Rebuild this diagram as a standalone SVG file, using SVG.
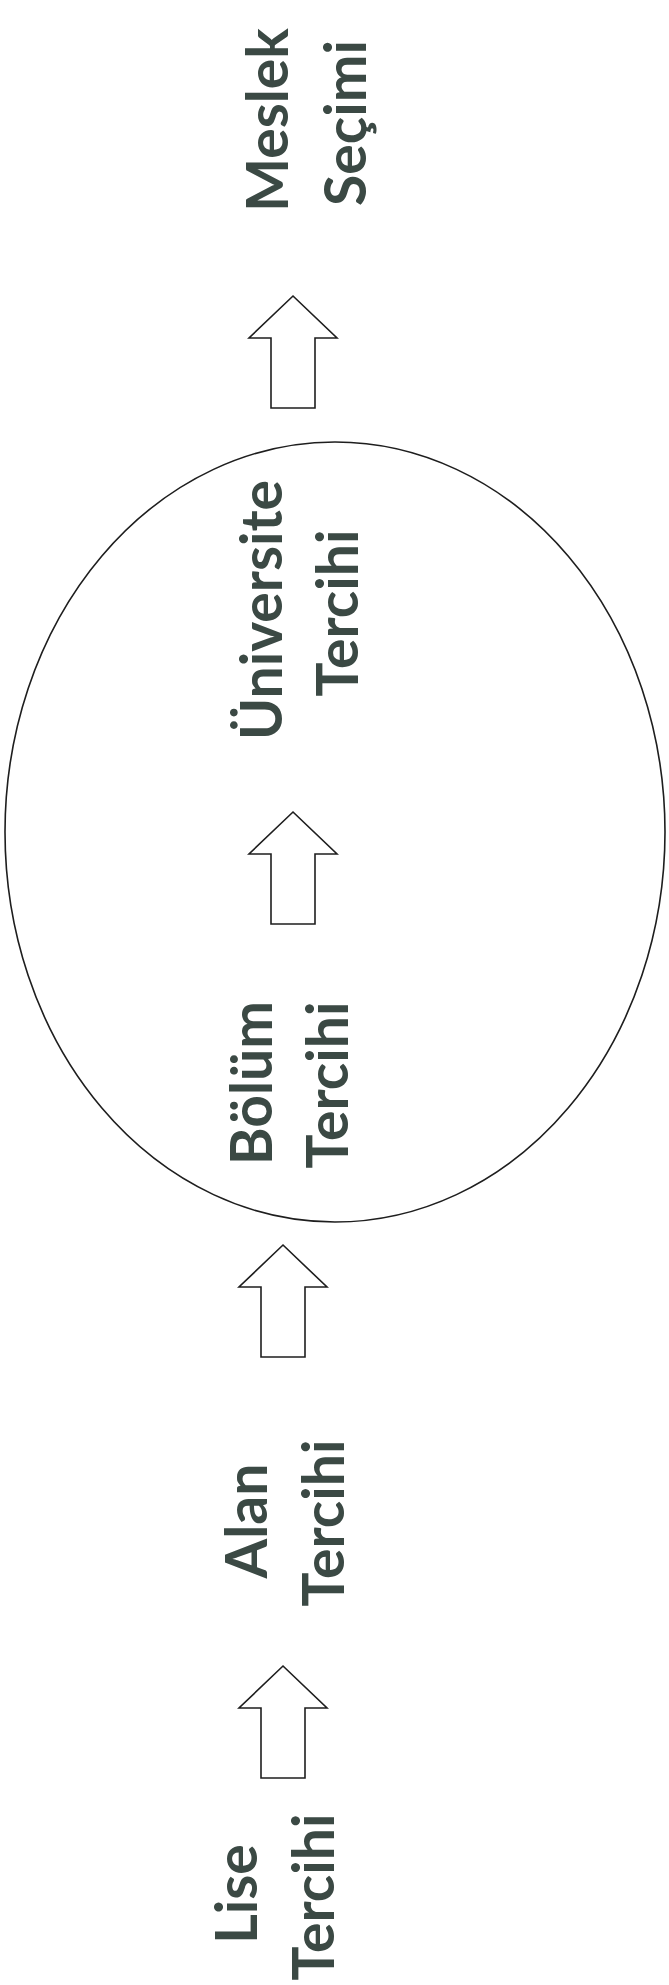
<svg xmlns="http://www.w3.org/2000/svg" xmlns:xlink="http://www.w3.org/1999/xlink" width="669" height="1985" viewBox="0 0 669 1985">
<style>
.lbl{font-family:Lato,"Open Sans","Liberation Sans",sans-serif;font-weight:bold;font-size:57px;fill:#3b4944;text-anchor:middle}
.arr{fill:#ffffff;stroke:#1e1e1e;stroke-width:1.6;stroke-linejoin:miter}
</style>
<defs>
<path id="blockArrow" d="M0,0 L44,42 L22,42 L22,112 L-22,112 L-22,42 L-44,42 Z"/>
</defs>
<rect width="669" height="1985" fill="#ffffff"/>
<g id="group-ellipse">
<ellipse cx="335" cy="832" rx="330" ry="390" fill="none" stroke="#1e1e1e" stroke-width="1.6"/>
</g>
<g id="connectors">
<use xlink:href="#blockArrow" class="arr" transform="translate(293,296)"/>
<use xlink:href="#blockArrow" class="arr" transform="translate(293,812)"/>
<use xlink:href="#blockArrow" class="arr" transform="translate(283,1245)"/>
<use xlink:href="#blockArrow" class="arr" transform="translate(283,1666)"/>
</g>
<g id="node-meslek">
<text class="lbl" transform="translate(288,120) rotate(-90)">Meslek</text>
<text class="lbl" transform="translate(366,123) rotate(-90)">Seçimi</text>
</g>
<g id="node-universite">
<text class="lbl" transform="translate(282,610) rotate(-90)">Üniversite</text>
<text class="lbl" transform="translate(358,613) rotate(-90)">Tercihi</text>
</g>
<g id="node-bolum">
<text class="lbl" transform="translate(272,1083) rotate(-90)">Bölüm</text>
<text class="lbl" transform="translate(348,1085) rotate(-90)">Tercihi</text>
</g>
<g id="node-alan">
<text class="lbl" transform="translate(267,1521) rotate(-90)">Alan</text>
<text class="lbl" transform="translate(344,1523) rotate(-90)">Tercihi</text>
</g>
<g id="node-lise">
<text class="lbl" transform="translate(257,1894) rotate(-90)">Lise</text>
<text class="lbl" transform="translate(334,1897) rotate(-90)">Tercihi</text>
</g>
</svg>
